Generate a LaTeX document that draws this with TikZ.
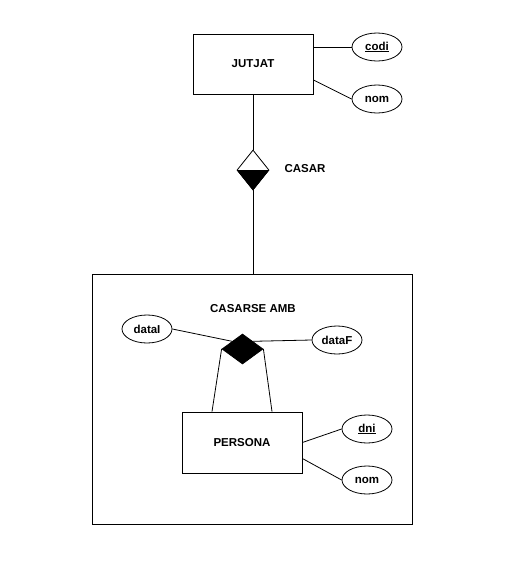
\documentclass[tikz,border=0pt]{standalone}
\usepackage{fontspec}
\setmainfont{Liberation Sans}
\usetikzlibrary{shapes.geometric}

\begin{document}
\begin{tikzpicture}[x=1pt, y=-1pt, line width=0.8pt,
    entitat/.style={draw, minimum width=120pt, minimum height=60pt, inner sep=0pt,
        font={\fontsize{11.5}{13}\selectfont\bfseries}},
    atribut/.style={draw, ellipse, minimum width=50pt, minimum height=28pt, inner sep=0pt,
        font={\fontsize{11.5}{13}\selectfont\bfseries}},
    relacio/.style={draw, diamond, inner sep=0pt},
    etiqueta/.style={font={\fontsize{11.5}{13}\selectfont\bfseries}}]
    \useasboundingbox [fill=white] (0,0) rectangle (531,576);
    % entitat JUTJAT i atributs
    \node [entitat] (jutjat) at (253,64) {JUTJAT};
    \node [atribut] (codi) at (377,47) {\underline{codi}};
    \node [atribut] (nomj) at (377,99) {nom};
    \draw (jutjat.east |- codi.west) -- (codi.west);
    \draw ([yshift=-16pt]jutjat.east) -- (nomj.west);
    % relacio CASAR
    \node [relacio, minimum width=32pt, minimum height=40pt] (casar) at (253,170) {};
    \fill (casar.west) -- (casar.east) -- (casar.south) -- cycle;
    \node [etiqueta] (casarlbl) at (305,169) {CASAR};
    % agregacio CASARSE AMB
    \node [draw, minimum width=320pt, minimum height=250pt] (amb) at (252,399) {};
    \node [etiqueta] (amblbl) at (253,309) {CASARSE AMB};
    \draw (jutjat.south) -- (casar.north);
    \draw (casar.south) -- (casar.south |- amb.north);
    \node [relacio, fill, minimum width=41pt, minimum height=30pt] (casament) at (242.5,349) {};
    \node [atribut] (datai) at (147,329) {dataI};
    \node [atribut] (dataf) at (337,340) {dataF};
    \draw (datai.east) -- (casament.north west);
    \draw (casament.north east) -- (dataf.west);
    % entitat PERSONA i atributs
    \node [entitat, minimum height=61pt] (persona) at (242,442.5) {PERSONA};
    \node [atribut] (dni) at (367,429) {\underline{dni}};
    \node [atribut] (nomp) at (367,480) {nom};
    \draw (casament.west) -- ([xshift=-30pt]persona.north);
    \draw (casament.east) -- ([xshift=30pt]persona.north);
    \draw (persona.east) -- (dni.west);
    \draw ([yshift=-16pt]persona.east) -- (nomp.west);
\end{tikzpicture}
\end{document}
